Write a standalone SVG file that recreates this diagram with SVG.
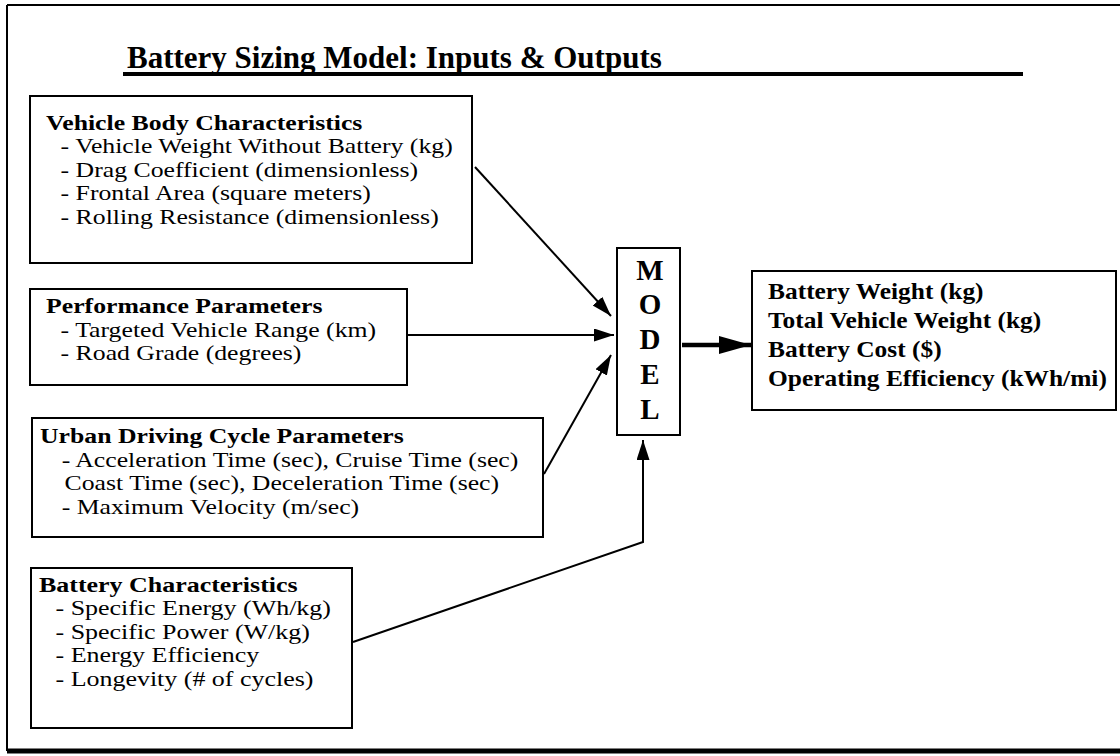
<svg xmlns="http://www.w3.org/2000/svg" width="1120" height="756" viewBox="0 0 1120 756">
<defs>
<style>
text{font-family:"Liberation Serif","Times New Roman",serif;fill:#000;}
.h{font-size:22px;font-weight:bold;}
.b{font-size:22px;}
.o{font-size:22.5px;font-weight:bold;}
.t{font-size:31px;font-weight:bold;}
.m{font-size:29px;font-weight:bold;text-anchor:middle;}
.box{fill:#fff;stroke:#000;stroke-width:2;}
.c{fill:none;stroke:#000;stroke-width:2;}
.ct{fill:none;stroke:#000;stroke-width:4.5;}
</style>
<marker id="ah" markerUnits="userSpaceOnUse" markerWidth="22" markerHeight="14" refX="20" refY="6.5" orient="auto">
<path d="M0,0 L20,6.5 L0,13 z" fill="#000"/>
</marker>
<marker id="ahb" markerUnits="userSpaceOnUse" markerWidth="34" markerHeight="20" refX="32" refY="9" orient="auto">
<path d="M0,0 L32,9 L0,18 z" fill="#000"/>
</marker>
</defs>
<rect width="1120" height="756" fill="#fff"/>
<g id="frame">
<path d="M7,5 H1120 M7,5 V751" fill="none" stroke="#000" stroke-width="2"/>
<path d="M7,751 H1120" fill="none" stroke="#000" stroke-width="5"/>
</g>
<g id="title">
<text class="t" x="127" y="68">Battery Sizing Model: Inputs &amp; Outputs</text>
<path d="M123,74 H1023" stroke="#000" stroke-width="4"/>
</g>
<g id="vehicle-body">
<rect class="box" x="30" y="96" width="442" height="167"/>
<g transform="translate(46,0) scale(1.17,1)">
<text class="h" x="0" y="130">Vehicle Body Characteristics</text>
<text class="b" x="12.5" y="153.5">- Vehicle Weight Without Battery (kg)</text>
<text class="b" x="12.5" y="177">- Drag Coefficient (dimensionless)</text>
<text class="b" x="12.5" y="200.5">- Frontal Area (square meters)</text>
<text class="b" x="12.5" y="224">- Rolling Resistance (dimensionless)</text>
</g>
</g>
<g id="performance">
<rect class="box" x="30" y="289" width="377" height="96"/>
<g transform="translate(46,0) scale(1.17,1)">
<text class="h" x="0" y="313">Performance Parameters</text>
<text class="b" x="12.5" y="337">- Targeted Vehicle Range (km)</text>
<text class="b" x="12.5" y="360">- Road Grade (degrees)</text>
</g>
</g>
<g id="urban-cycle">
<rect class="box" x="32" y="418" width="511" height="119"/>
<g transform="translate(40,0) scale(1.17,1)">
<text class="h" x="0" y="443">Urban Driving Cycle Parameters</text>
<text class="b" x="18.5" y="467">- Acceleration Time (sec), Cruise Time (sec)</text>
<text class="b" x="21" y="490">Coast Time (sec), Deceleration Time (sec)</text>
<text class="b" x="18.5" y="514">- Maximum Velocity (m/sec)</text>
</g>
</g>
<g id="battery-char">
<rect class="box" x="31" y="568" width="321" height="160"/>
<g transform="translate(39,0) scale(1.18,1)">
<text class="h" x="0" y="592">Battery Characteristics</text>
<text class="b" x="14" y="615.5">- Specific Energy (Wh/kg)</text>
<text class="b" x="14" y="639">- Specific Power (W/kg)</text>
<text class="b" x="14" y="662.5">- Energy Efficiency</text>
<text class="b" x="14" y="686">- Longevity (# of cycles)</text>
</g>
</g>
<g id="model">
<rect class="box" x="617" y="248" width="63" height="187"/>
<text class="m" x="650" y="280">M</text>
<text class="m" x="650" y="314">O</text>
<text class="m" x="650" y="349">D</text>
<text class="m" x="650" y="384">E</text>
<text class="m" x="650" y="419">L</text>
</g>
<g id="outputs">
<rect class="box" x="752" y="271" width="364" height="139"/>
<g transform="translate(768,0) scale(1.13,1)">
<text class="o" x="0" y="299">Battery Weight (kg)</text>
<text class="o" x="0" y="328">Total Vehicle Weight (kg)</text>
<text class="o" x="0" y="357">Battery Cost ($)</text>
<text class="o" x="0" y="386">Operating Efficiency (kWh/mi)</text>
</g>
</g>
<g id="connectors">
<line class="c" x1="475" y1="167" x2="611" y2="316" marker-end="url(#ah)"/>
<line class="c" x1="407" y1="335" x2="614" y2="335" marker-end="url(#ah)"/>
<line class="c" x1="544" y1="474" x2="611" y2="355" marker-end="url(#ah)"/>
<polyline class="c" points="353,642 643,542 643,440" marker-end="url(#ah)"/>
<line class="ct" x1="682" y1="345" x2="751" y2="345" marker-end="url(#ahb)"/>
</g>
</svg>
